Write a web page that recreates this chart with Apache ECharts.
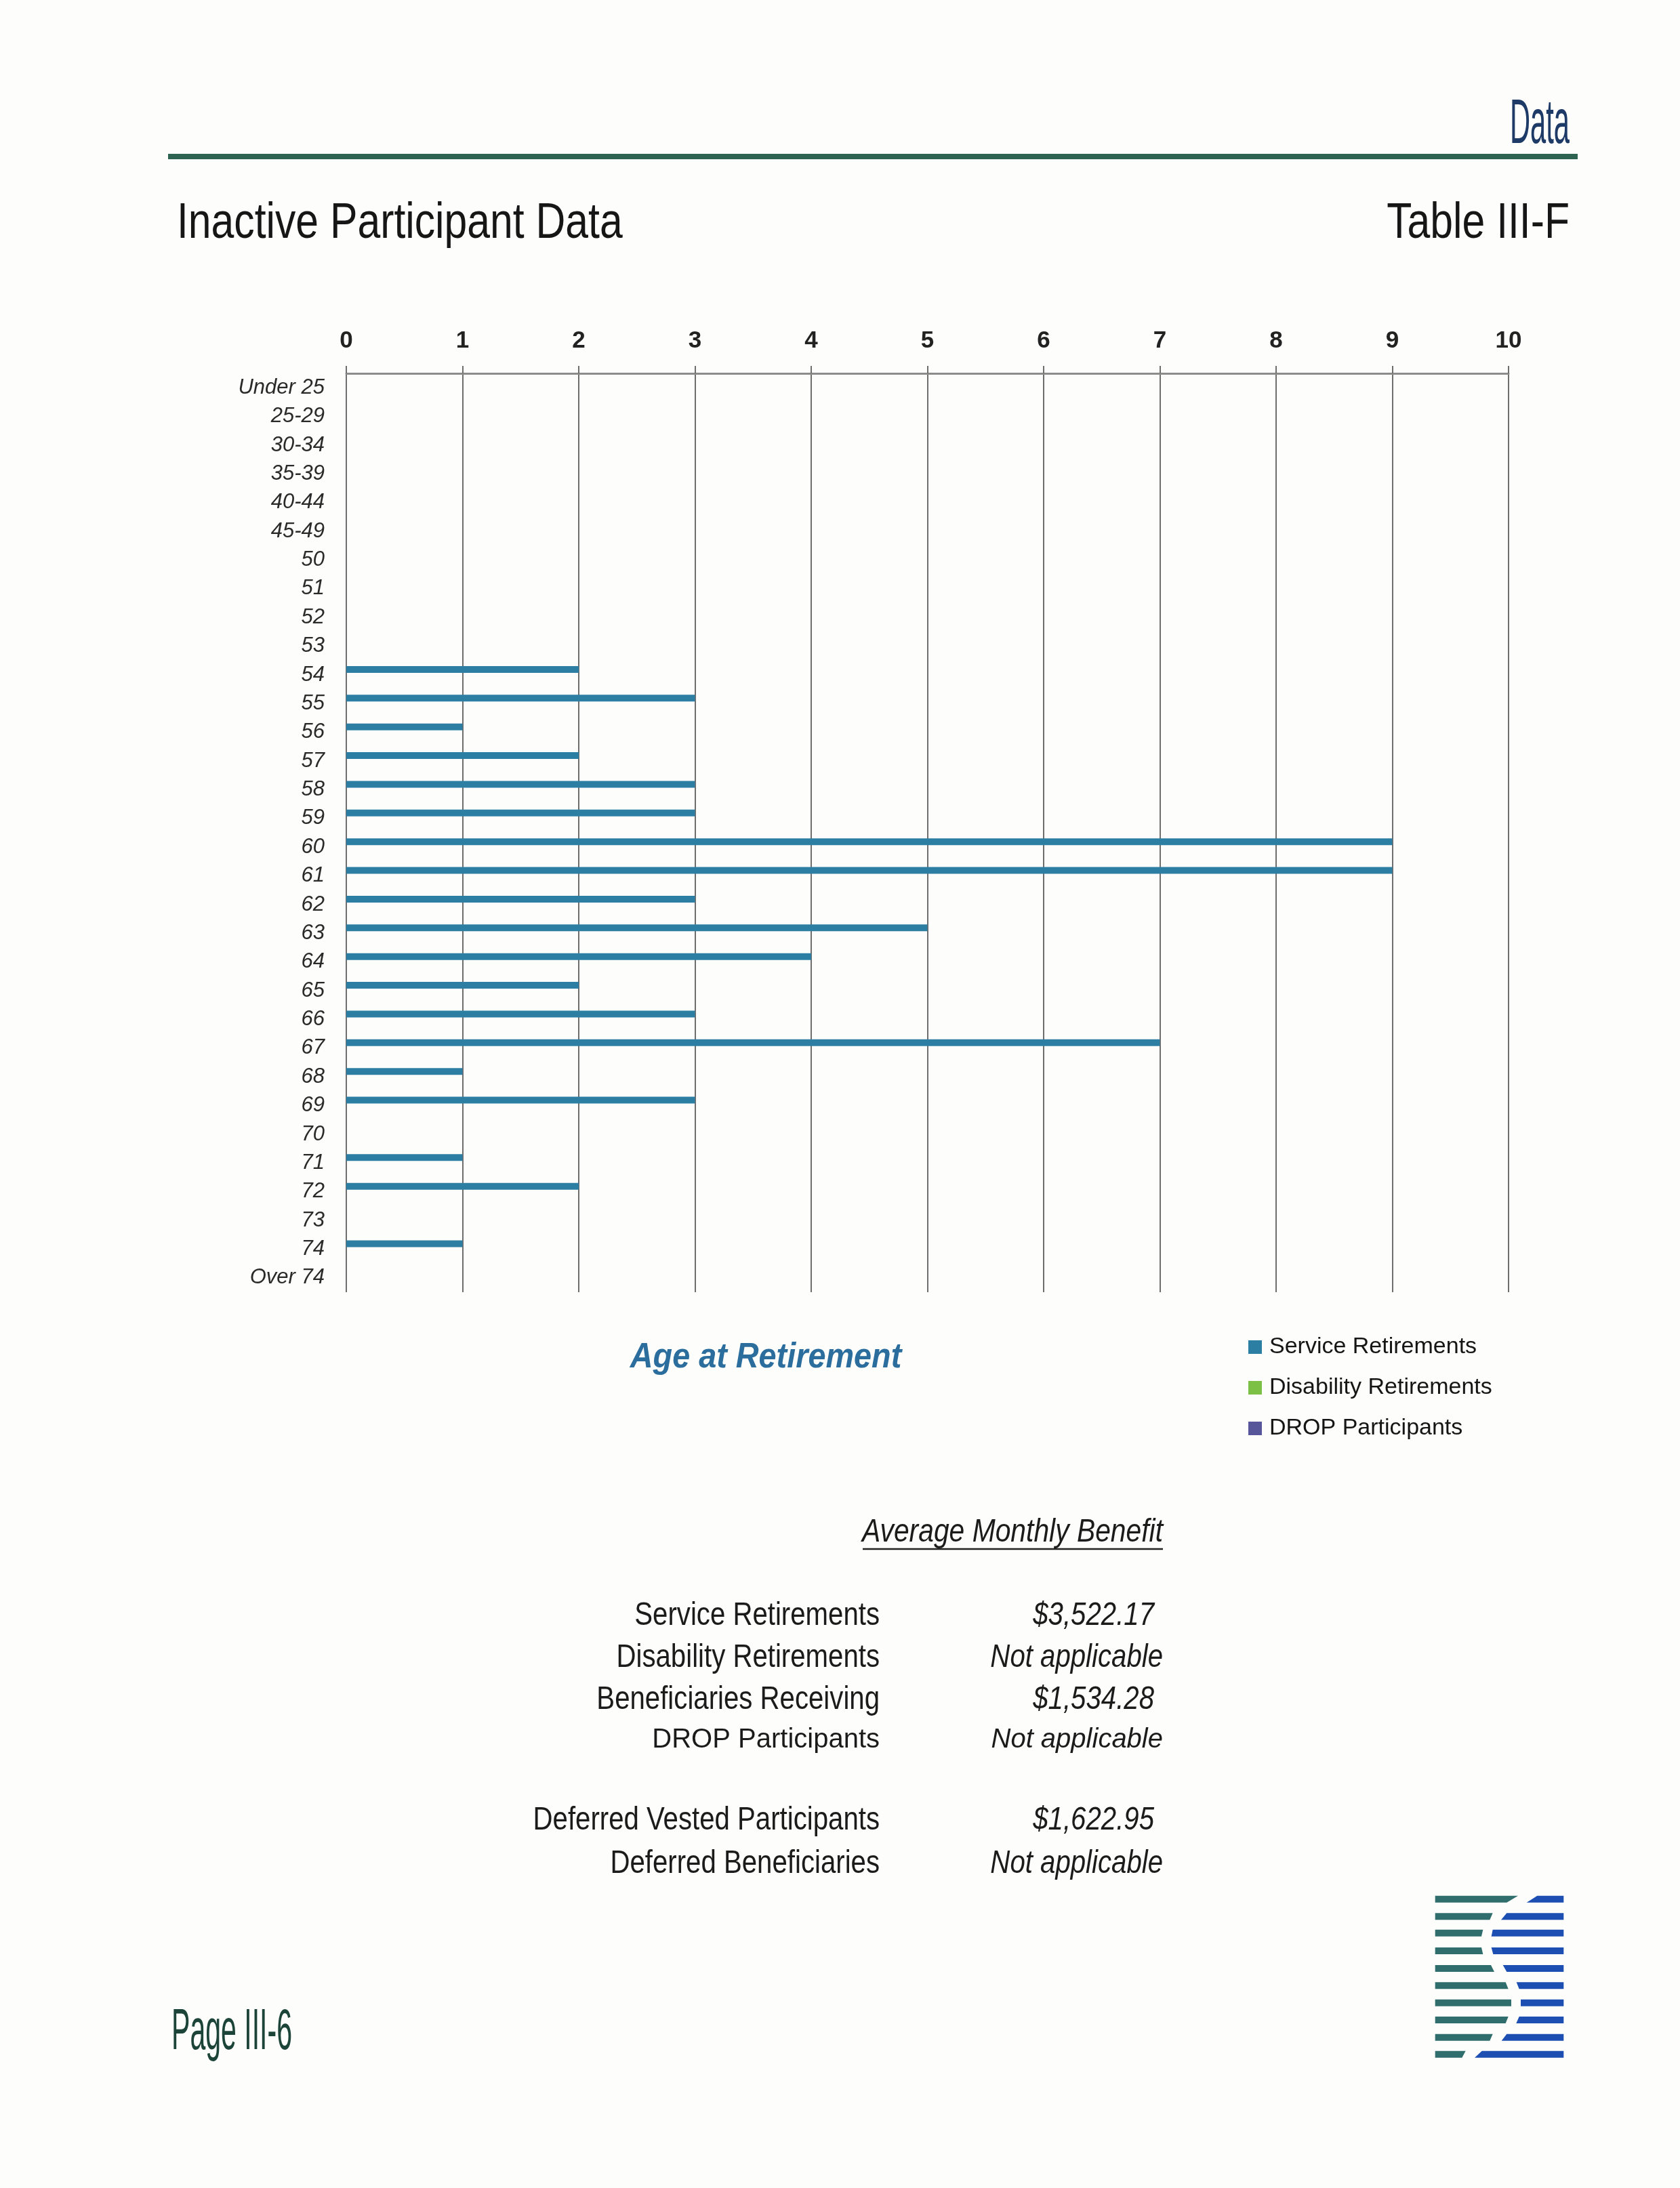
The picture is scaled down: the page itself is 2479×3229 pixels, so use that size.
<!DOCTYPE html>
<html>
<head>
<meta charset="utf-8">
<script src="https://cdn.jsdelivr.net/npm/echarts@6/dist/echarts.min.js"></script>
<style>
html,body{margin:0;padding:0;background:#fdfdfb;}
#c{width:2479px;height:3229px;}
</style>
</head>
<body>
<div id="c"></div>
<script>
// ---------------- DATA ----------------
const categories = ['Under 25','25-29','30-34','35-39','40-44','45-49','50','51','52','53','54','55','56','57','58','59','60','61','62','63','64','65','66','67','68','69','70','71','72','73','74','Over 74'];
const serviceRetirements    = [0,0,0,0,0,0,0,0,0,0,2,3,1,2,3,3,9,9,3,5,4,2,3,7,1,3,0,1,2,0,1,0];
const disabilityRetirements = [0,0,0,0,0,0,0,0,0,0,0,0,0,0,0,0,0,0,0,0,0,0,0,0,0,0,0,0,0,0,0,0];
const dropParticipants      = [0,0,0,0,0,0,0,0,0,0,0,0,0,0,0,0,0,0,0,0,0,0,0,0,0,0,0,0,0,0,0,0];
const seriesNames = ['Service Retirements','Disability Retirements','DROP Participants'];
const xTickLabels = ['0','1','2','3','4','5','6','7','8','9','10'];
const benefitLabels = ['Service Retirements','Disability Retirements','Beneficiaries Receiving','DROP Participants','Deferred Vested Participants','Deferred Beneficiaries'];
const benefitValues = ['$3,522.17','Not applicable','$1,534.28','Not applicable','$1,622.95','Not applicable'];

// ---------------- STYLE / LAYOUT ----------------
const SANS = "'Liberation Sans', Arial, sans-serif";
const NARROW_K = 0.82;
const seriesColors = ['#2d7ea3', '#7cc146', '#58569a'];

const mctx = document.createElement('canvas').getContext('2d');
function measure(text, font){ mctx.font = font; return mctx.measureText(text).width; }

// text drawn with Liberation Sans, horizontally condensed by scaleX
function txt(text, x, y, size, opts){
  opts = opts || {};
  const style = (opts.italic ? 'italic ' : '') + (opts.bold ? 'bold ' : '');
  const font = style + size + 'px ' + SANS;
  let sx = opts.scale == null ? NARROW_K : opts.scale;
  if (opts.width) sx = opts.width / measure(text, font);
  return {
    type: 'text', x: x, y: y, scaleX: sx, scaleY: 1, z: 10,
    style: { text: text, font: font, fill: opts.color || '#1b1b1b',
             textAlign: opts.align || 'left', textVerticalAlign: 'middle' }
  };
}

const graphics = [];
// header rule
graphics.push({type:'rect', shape:{x:248, y:227, width:2080, height:8}, style:{fill:'#2e6352'}});
// header texts
graphics.push(txt('Data', 2316, 186, 92, {align:'right', width:88, color:'#1e3a66'}));
graphics.push(txt('Inactive Participant Data', 261, 331, 74, {color:'#161616'}));
graphics.push(txt('Table III-F', 2316, 331, 74, {align:'right', color:'#161616'}));
// chart caption
graphics.push(txt('Age at Retirement', 1130, 2004, 52, {align:'center', bold:true, italic:true, scale:0.9, color:'#2b6d9d'}));
// benefit table
graphics.push(txt('Average Monthly Benefit', 1716, 2261, 49, {align:'right', italic:true, width:444, color:'#1b1b1b'}));
graphics.push({type:'line', shape:{x1:1273, y1:2286, x2:1716, y2:2286}, style:{stroke:'#222', lineWidth:2.5}});
const rowY = [2384, 2446, 2508, 2568, 2686, 2750];
benefitLabels.forEach(function(lbl, i){
  const small = lbl === 'DROP Participants';
  const size = small ? 40 : 49;
  const k = small ? 1.0 : NARROW_K;
  graphics.push(txt(lbl, 1298, rowY[i], size, {align:'right', scale:k}));
  const v = benefitValues[i];
  const right = v.charAt(0) === '$' ? 1703 : 1716;
  graphics.push(txt(v, right, rowY[i], size, {align:'right', italic:true, scale:k}));
});
// page label
graphics.push(txt('Page III-6', 253, 3000, 86, {width:178, color:'#1d4438'}));

// logo stripes: [yCenter, greenTopEnd, greenBotEnd, blueTopStart, blueBotStart] (zoom units)
const logoRows = [
  [68, 570, 520, 655, 608],
  [145, 458, 445, 520, 495],
  [218, 415, 408, 458, 452],
  [297, 408, 415, 452, 460],
  [375, 450, 465, 503, 520],
  [451, 515, 527, 563, 575],
  [527, 540, 540, 582, 582],
  [603, 527, 515, 575, 562],
  [680, 458, 445, 520, 497],
  [755, 338, 322, 410, 378]
];
const LX = function(z){ return 2050 + z/3; };
const LY = function(z){ return 2780 + z/3; };
logoRows.forEach(function(r){
  const yc = LY(r[0]), t = yc - 5, b = yc + 5;
  graphics.push({type:'polygon', shape:{points:[[LX(203),t],[LX(r[1]),t],[LX(r[2]),b],[LX(203),b]]}, style:{fill:'#2f6e6c'}});
  graphics.push({type:'polygon', shape:{points:[[LX(r[3]),t],[LX(772),t],[LX(772),b],[LX(r[4]),b]]}, style:{fill:'#1d4fb3'}});
});

const seriesData = [serviceRetirements, disabilityRetirements, dropParticipants];

const chart = echarts.init(document.getElementById('c'), null, {renderer:'canvas'});
chart.setOption({
  backgroundColor: '#fdfdfb',
  animation: false,
  textStyle: { fontFamily: SANS },
  grid: { left: 511, right: 253, top: 551, bottom: 1322, containLabel: false },
  xAxis: {
    type: 'value', position: 'top', min: 0, max: 10, interval: 1,
    axisLine: { show: true, lineStyle: { color: '#8c8c8c', width: 3 } },
    axisTick: { show: true, length: 11, lineStyle: { color: '#6e6e6e', width: 2 } },
    axisLabel: { margin: 30, fontSize: 35, fontWeight: 'bold', fontFamily: SANS, color: '#222',
                 formatter: function(v){ return xTickLabels[Math.round(v)]; } },
    splitLine: { show: true, lineStyle: { color: '#6e6e6e', width: 2 } }
  },
  yAxis: {
    type: 'category', data: categories, inverse: true,
    axisLine: { show: false }, axisTick: { show: false }, splitLine: { show: false },
    axisLabel: { margin: 32, fontSize: 31, fontStyle: 'italic', fontFamily: SANS, color: '#2a2a2a' }
  },
  legend: {
    orient: 'vertical', left: 1837, top: 1966, itemWidth: 20, itemHeight: 20, itemGap: 26,
    icon: 'rect', data: seriesNames,
    textStyle: { fontSize: 34, fontFamily: SANS, color: '#151515', padding: [0,0,0,6] }
  },
  series: seriesNames.map(function(n, i){
    return { type: 'bar', name: n, data: seriesData[i], barWidth: 10, barGap: '-20%',
             itemStyle: { color: seriesColors[i] } };
  }),
  graphic: graphics
});
</script>
</body>
</html>
